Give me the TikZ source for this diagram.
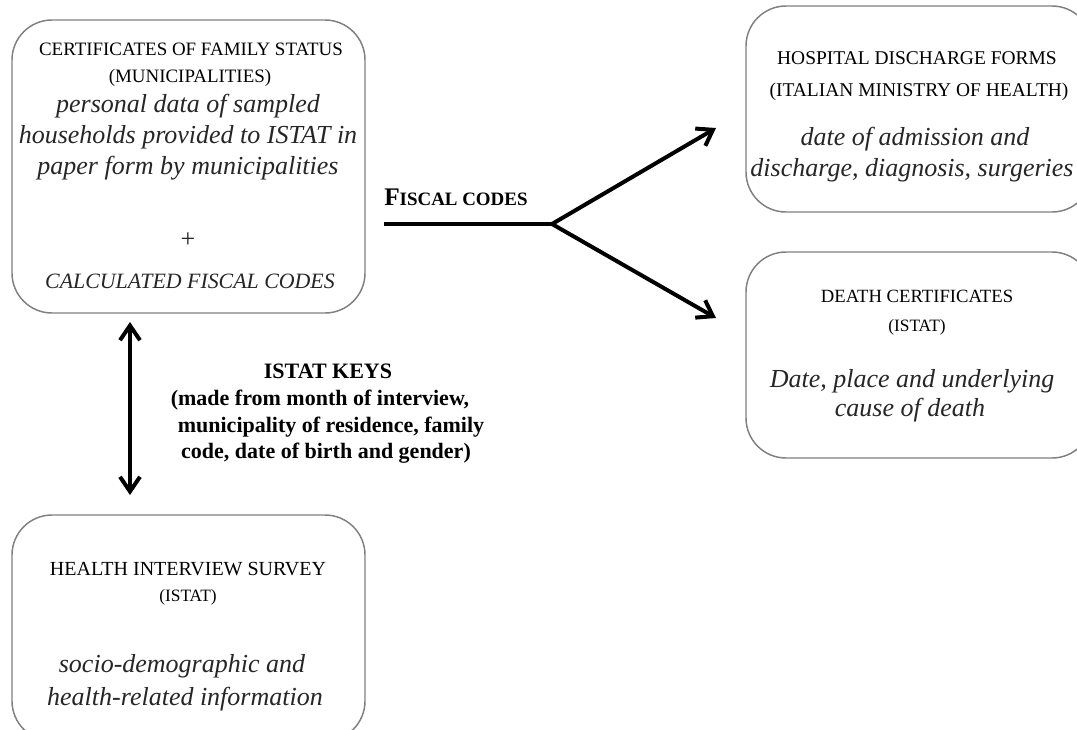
\documentclass[tikz,border=0pt]{standalone}
\usepackage{fontspec}
\setmainfont{Liberation Serif}
\usetikzlibrary{arrows.meta}
\begin{document}
\begin{tikzpicture}[x=0.75pt,y=-0.75pt,
  box/.style={draw=black!50, line width=1.1pt, rounded corners=30pt, fill=white, inner sep=0pt},
  ttl/.style={inner sep=0pt, anchor=base, text=black},
  itl/.style={inner sep=0pt, anchor=base, text=black!85, font=\fontsize{19.5pt}{23pt}\selectfont\itshape},
  keys/.style={inner sep=0pt, anchor=base, text=black, font=\fontsize{16.5pt}{20pt}\selectfont\bfseries},
  conn/.style={line width=3pt, black},
  tip/.style={-{Straight Barb[length=11pt,width=15pt]}},
  tips/.style={{Straight Barb[length=11pt,width=15pt]}-{Straight Barb[length=11pt,width=15pt]}}]
\useasboundingbox (0,0) rectangle (1077,729);
\clip (0,0) rectangle (1077,729);

% boxes
\node[box, minimum width=264.75pt, minimum height=219.75pt] (boxA) at (188.5,166.5) {};
\node[box, minimum width=259.5pt, minimum height=154.5pt] (boxB) at (919,109) {};
\node[box, minimum width=259.5pt, minimum height=154.5pt] (boxC) at (919,355) {};
\node[box, minimum width=264.75pt, minimum height=169.5pt] (boxD) at (188.5,628) {};

% box A texts
\node[ttl, font=\fontsize{14.2pt}{17pt}\selectfont] (a1) at (191,55) {CERTIFICATES OF FAMILY STATUS};
\node[ttl, font=\fontsize{14.2pt}{17pt}\selectfont] (a2) at (190,82) {(MUNICIPALITIES)};
\node[itl] (a3) at (188,112) {personal data of sampled};
\node[itl] (a4) at (188,143) {households provided to ISTAT in};
\node[itl] (a5) at (188,174) {paper form by municipalities};
\node[inner sep=0pt, text=black!85, font=\fontsize{19.5pt}{23pt}\selectfont] (a6) at (188,240) {+};
\node[inner sep=0pt, anchor=base, text=black!85, font=\fontsize{16.4pt}{20pt}\selectfont\itshape] (a7) at (190,288) {CALCULATED FISCAL CODES};

% box B texts
\node[ttl, font=\fontsize{14.6pt}{17pt}\selectfont] (b1) at (917,64) {HOSPITAL DISCHARGE FORMS};
\node[ttl, font=\fontsize{14.6pt}{17pt}\selectfont] (b2) at (919,96) {(ITALIAN MINISTRY OF HEALTH)};
\node[itl] (b3) at (915,145) {date of admission and};
\node[itl] (b4) at (912,176) {discharge, diagnosis, surgeries};

% box C texts
\node[ttl, font=\fontsize{14pt}{17pt}\selectfont] (c1) at (917,302) {DEATH CERTIFICATES};
\node[ttl, font=\fontsize{13pt}{16pt}\selectfont] (c2) at (917,331) {(ISTAT)};
\node[itl] (c3) at (912,387) {Date, place and underlying};
\node[itl] (c4) at (910,416) {cause of death};

% box D texts
\node[ttl, font=\fontsize{15pt}{18pt}\selectfont] (d1) at (188,575) {HEALTH INTERVIEW SURVEY};
\node[ttl, font=\fontsize{13pt}{16pt}\selectfont] (d2) at (188,601) {(ISTAT)};
\node[itl] (d3) at (182,672) {socio-demographic and};
\node[itl] (d4) at (185,705) {health-related information};

% ISTAT keys label
\node[keys] (k1) at (328,378) {ISTAT KEYS};
\node[keys] (k2) at (320,405) {(made from month of interview,};
\node[keys] (k3) at (331,432) {municipality of residence, family};
\node[keys] (k4) at (326,458) {code, date of birth and gender)};

% fiscal codes label
\node[inner sep=0pt, anchor=base west, text=black, font=\bfseries] (fc) at (384,205)
  {{\fontsize{19pt}{22pt}\selectfont F}{\fontsize{14.2pt}{17pt}\selectfont ISCAL CODES}};

% connectors
\coordinate (vtop) at (130,322);
\coordinate (vbot) at (130,495);
\draw[conn, tips] (vtop) -- (vbot);

\coordinate (fstart) at (384,224);
\coordinate (split) at (552,224);
\coordinate (tipB) at (716,128);
\coordinate (tipC) at (716,318);
\draw[conn] (fstart) -- (split);
\draw[conn, tip] (split) -- (tipB);
\draw[conn, tip] (split) -- (tipC);
\end{tikzpicture}
\end{document}
